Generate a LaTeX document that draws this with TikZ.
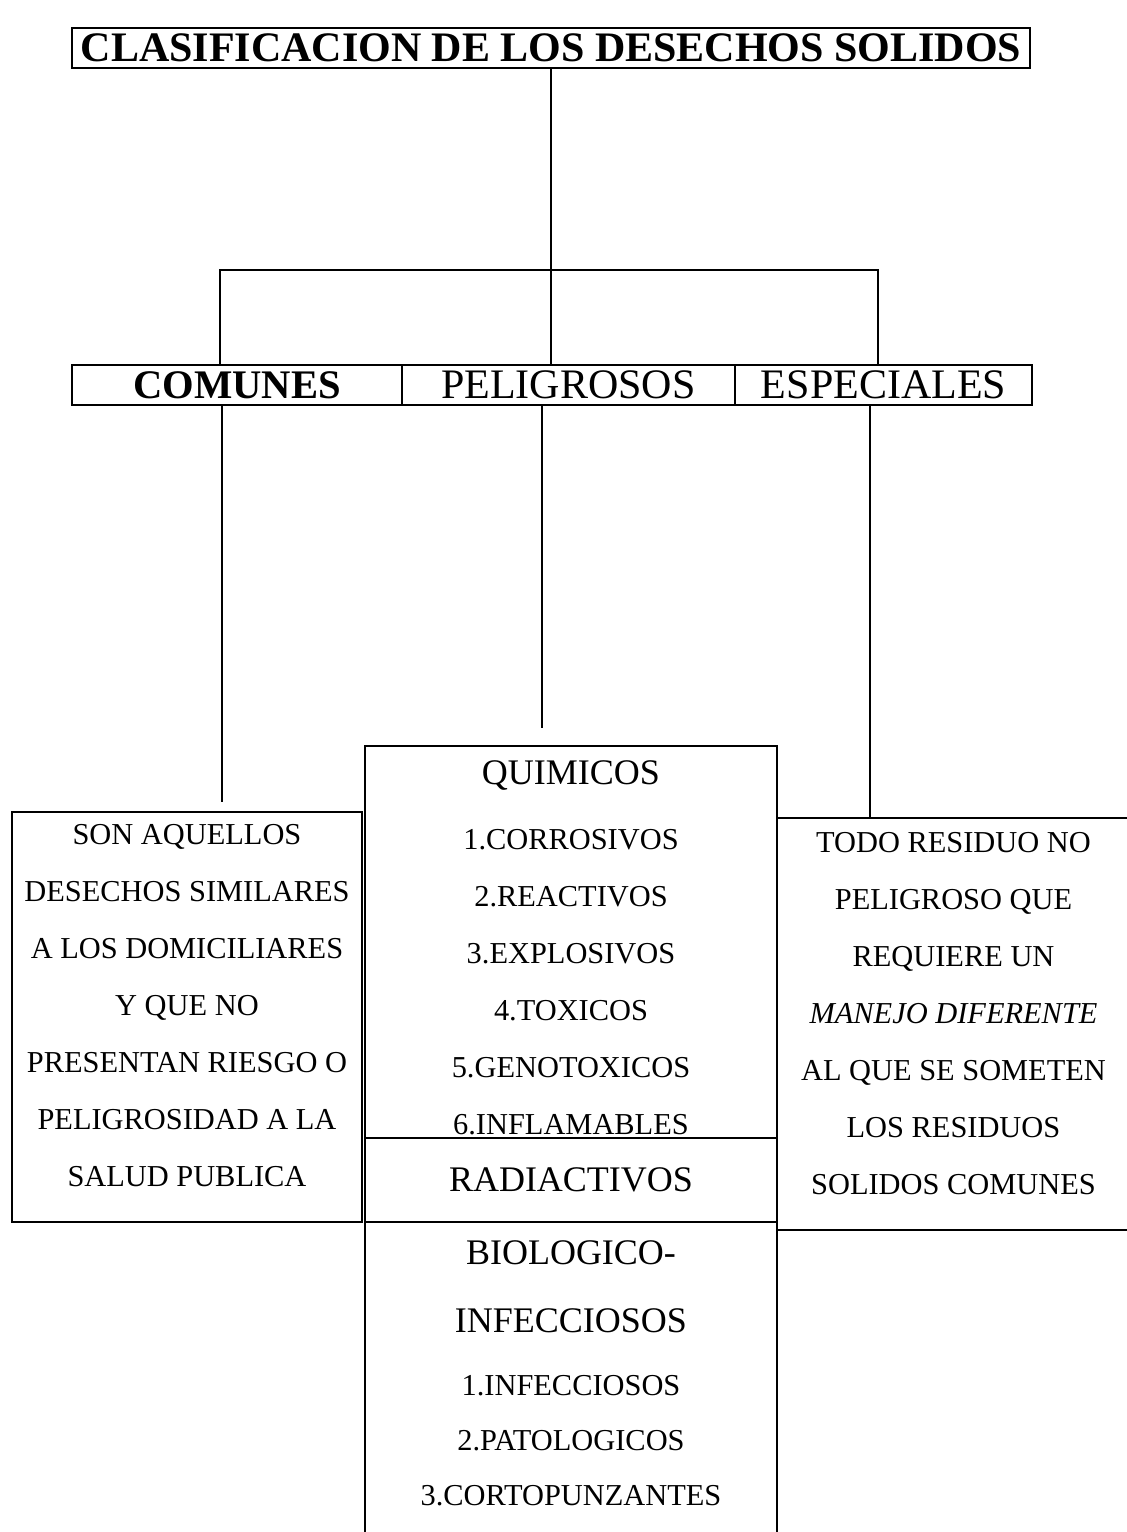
\documentclass[tikz,border=0pt]{standalone}
\usepackage{fontspec}
\setmainfont{Liberation Serif}
\usetikzlibrary{positioning}
\newcommand{\grande}[1]{{\fontsize{18}{28.5}\selectfont #1}}
\tikzset{
  box/.style={draw,line width=1pt,inner sep=0pt,outer sep=0pt,align=center},
  txt/.style={font=\fontsize{15.2}{28.5}\selectfont},
  link/.style={line width=1pt}
}

\begin{document}
\begin{tikzpicture}[x=0.5pt,y=-0.5pt]
\useasboundingbox (0,0) rectangle (1126,1532);
% titulo y categorias
\node[box,minimum width=479pt,minimum height=20pt,font=\bfseries\fontsize{21}{24}\selectfont] (titulo) at (551,48) {CLASIFICACION DE LOS DESECHOS SOLIDOS};
\node[box,minimum width=165pt,minimum height=20pt,font=\bfseries\fontsize{20.3}{24}\selectfont] (comunes) at (237,385) {COMUNES};
\node[box,minimum width=166.5pt,minimum height=20pt,font=\fontsize{21}{24}\selectfont] (peligrosos) at (568.5,385) {PELIGROSOS};
\node[box,minimum width=148.5pt,minimum height=20pt,font=\fontsize{21}{24}\selectfont] (especiales) at (883.5,385) {ESPECIALES};
\coordinate (barL) at (220,270);
\coordinate (barR) at (878,270);
\draw[link] (titulo.south) -- (peligrosos.north -| titulo.south);
\draw[link] (comunes.north -| barL) -- (barL) -- (barR) -- (especiales.north -| barR);
% definiciones
\node[box,txt,minimum width=175pt,minimum height=205pt,text depth=12pt] (aquellos) at (187,1017) {SON AQUELLOS\\DESECHOS SIMILARES\\A LOS DOMICILIARES\\Y QUE NO\\PRESENTAN RIESGO O\\PELIGROSIDAD A LA\\SALUD PUBLICA};
\node[box,txt,minimum width=206pt,minimum height=196pt] (quimicos) at (571,942) {\rule{0pt}{18pt}\grande{QUIMICOS}\\[4pt]1.CORROSIVOS\\2.REACTIVOS\\3.EXPLOSIVOS\\4.TOXICOS\\5.GENOTOXICOS\\6.INFLAMABLES};
\node[box,minimum width=206pt,minimum height=42pt,font=\fontsize{18}{22}\selectfont,below=0pt of quimicos] (radiactivos) {RADIACTIVOS};
\node[txt,inner sep=0pt,align=center,below=9pt of radiactivos] (biologicos) {\grande{BIOLOGICO-}\\[5.5pt]\grande{INFECCIOSOS}\\[3pt]1.INFECCIOSOS\\[-1pt]2.PATOLOGICOS\\[-1pt]3.CORTOPUNZANTES};
\node[box,txt,minimum width=176.5pt,minimum height=206pt,text depth=11pt] (todo) at (953.5,1024) {TODO RESIDUO NO\\PELIGROSO QUE\\REQUIERE UN\\\textit{MANEJO DIFERENTE}\\AL QUE SE SOMETEN\\LOS RESIDUOS\\SOLIDOS COMUNES};
\draw[link] (radiactivos.south west) -- ++(0,320);
\draw[link] (radiactivos.south east) -- ++(0,320);
% bajadas
\coordinate (finC) at (222,802);
\coordinate (finP) at (542,728);
\coordinate (colE) at (870,405);
\draw[link] (comunes.south -| finC) -- (finC);
\draw[link] (peligrosos.south -| finP) -- (finP);
\draw[link] (especiales.south -| colE) -- (todo.north -| colE);
\end{tikzpicture}
\end{document}
